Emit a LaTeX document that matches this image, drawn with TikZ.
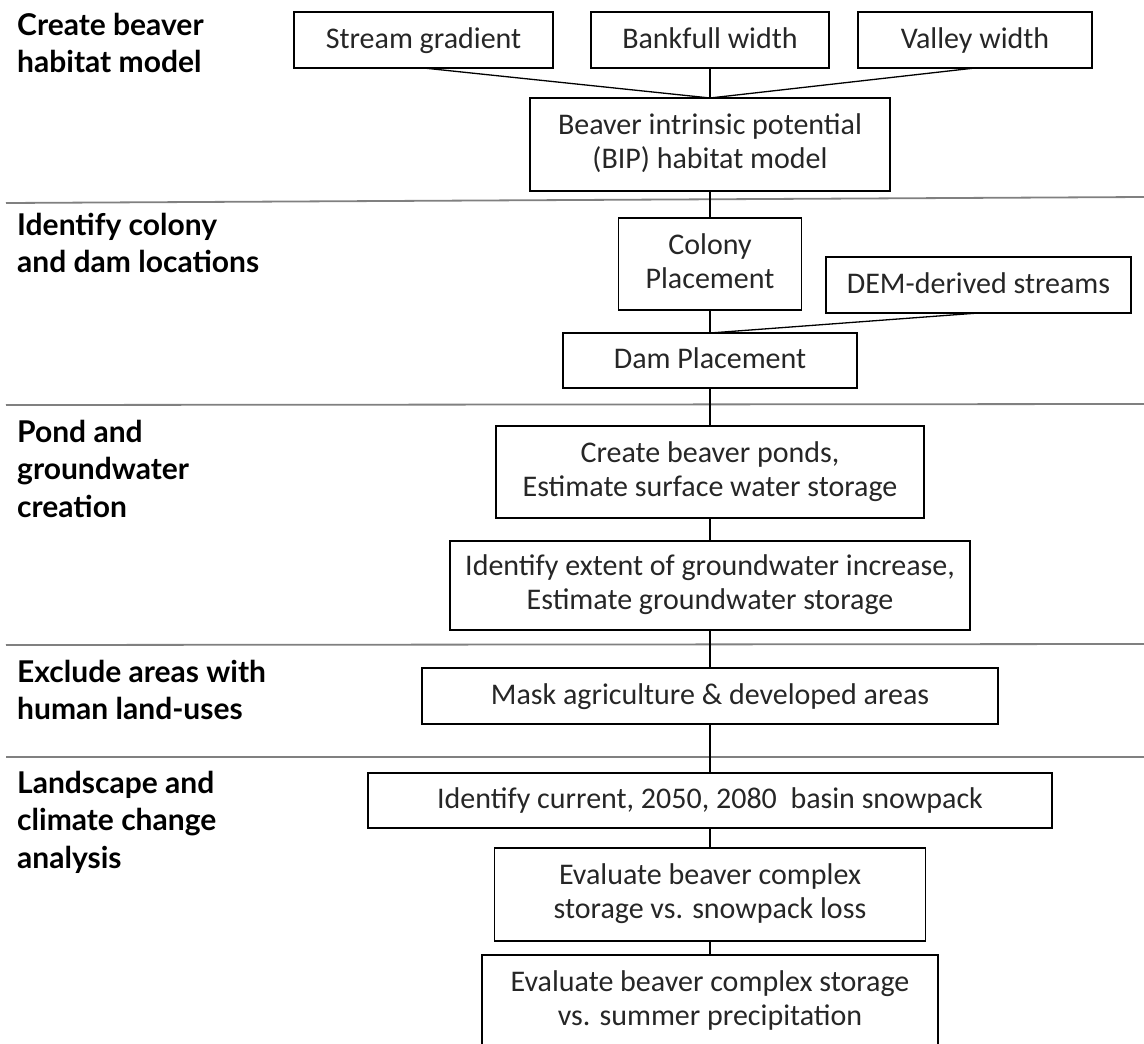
\documentclass[tikz,border=0pt]{standalone}
\usepackage{fontspec}
\setmainfont{Carlito}
\newfontfamily\headfont{Lato}
\usepackage{tikz}
\usetikzlibrary{positioning}

\newcommand{\bodysize}{\fontsize{30}{34}\selectfont}
\newcommand{\headsize}{\fontsize{30}{37.5}\selectfont}

\tikzset{
  box/.style={draw=black, line width=1.3pt, align=center, inner sep=0pt,
              outer sep=0pt, text=black!85, font=\bodysize,
              execute at begin node={\rule{0pt}{22pt}},
              execute at end node={\rule[-6pt]{0pt}{6pt}}},
  stage/.style={anchor=north west, align=left, inner sep=0pt,
                font=\headfont\bfseries\headsize},
  divider/.style={draw=black!50, line width=1.8pt},
  link/.style={draw=black, line width=1.3pt}
}

\begin{document}
\begin{tikzpicture}[x=1pt, y=-1pt]
  \useasboundingbox (0,0) rectangle (1144,1044);
  \clip (0,0) rectangle (1144,1044);

  % stage headings
  \node[stage] (h1) at (17,8.75)   {\strut Create beaver\\habitat model};
  \node[stage] (h2) at (17,208.75) {\strut Identify colony\\and dam locations};
  \node[stage] (h3) at (17,415.75) {\strut Pond and\\groundwater\\creation};
  \node[stage] (h4) at (17,655.75) {\strut Exclude areas with\\human land-uses};
  \node[stage] (h5) at (17,766.75) {\strut Landscape and\\climate change\\analysis};

  % dividers
  \draw[divider] (6,203) -- (1144,197);
  \draw[divider] (6,405) -- (1144,404);
  \draw[divider] (6,645) -- (1144,644);
  \draw[divider] (6,757) -- (1144,757);

  % boxes
  \node[box, minimum width=259pt, minimum height=56pt] (grad) at (423.5,40) {Stream gradient};
  \node[box, minimum width=238pt, minimum height=56pt] (bank) at (710,40) {Bankfull width};
  \node[box, minimum width=234pt, minimum height=56pt] (valley) at (975,40) {Valley width};
  \node[box, minimum width=360pt, minimum height=93pt] (bip) [below=30pt of bank]
    {Beaver intrinsic potential\\(BIP) habitat model};
  \node[box, minimum width=183pt, minimum height=92pt] (colony) [below=27pt of bip]
    {Colony\\Placement};
  \node[box, minimum width=305pt, minimum height=56pt] (dem) at (978.5,285) {DEM-derived streams};
  \node[box, minimum width=294pt, minimum height=55pt] (dam) [below=23pt of colony] {Dam Placement};
  \node[box, minimum width=428pt, minimum height=92pt] (ponds) [below=38pt of dam]
    {Create beaver ponds,\\Estimate surface water storage};
  \node[box, minimum width=520pt, minimum height=89pt] (extent) [below=23pt of ponds]
    {Identify extent of groundwater increase,\\Estimate groundwater storage};
  \node[box, minimum width=576pt, minimum height=56pt] (mask) [below=38pt of extent]
    {Mask agriculture \& developed areas};
  \node[box, minimum width=684pt, minimum height=55pt] (snow) [below=49pt of mask]
    {Identify current, 2050, 2080\ \ basin snowpack};
  \node[box, minimum width=431pt, minimum height=93pt] (evalsnow) [below=20pt of snow]
    {Evaluate beaver complex\\storage vs. snowpack loss};
  \node[box, minimum width=456pt, minimum height=93pt] (evalprec) [below=14pt of evalsnow]
    {Evaluate beaver complex storage\\vs. summer precipitation};

  % connectors
  \draw[link] (grad.south) -- (bip.north);
  \draw[link] (bank) -- (bip);
  \draw[link] (valley.south) -- (bip.north);
  \draw[link] (bip) -- (colony);
  \draw[link] (colony) -- (dam);
  \draw[link] (dem.south) -- (dam.north);
  \draw[link] (dam) -- (ponds);
  \draw[link] (ponds) -- (extent);
  \draw[link] (extent) -- (mask);
  \draw[link] (mask) -- (snow);
  \draw[link] (snow) -- (evalsnow);
  \draw[link] (evalsnow) -- (evalprec);
\end{tikzpicture}
\end{document}
